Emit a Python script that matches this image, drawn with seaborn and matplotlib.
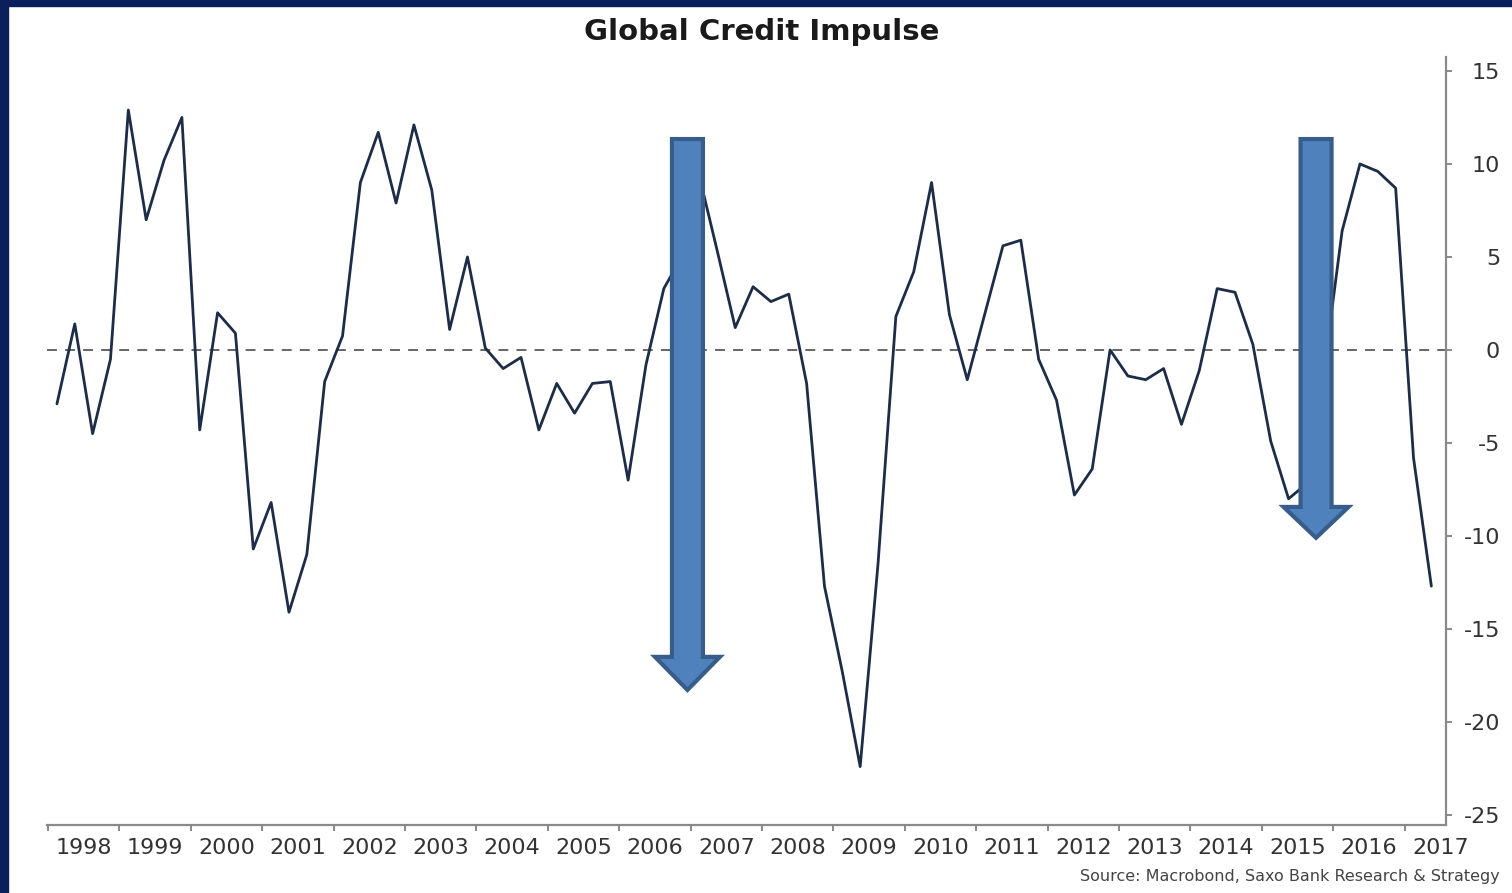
import numpy as np
import pandas as pd
import matplotlib
matplotlib.use("Agg")
import matplotlib.pyplot as plt
import seaborn as sns
from matplotlib.patches import Polygon, Rectangle

# ---------------- data ----------------
quarters = pd.period_range("1998Q1", "2017Q2", freq="Q")
impulse = [
    -2.9, 1.4, -4.5, -0.5,      # 1998
    12.9, 7.0, 10.2, 12.5,      # 1999
    -4.3, 2.0, 0.9, -10.7,      # 2000
    -8.2, -14.1, -11.0, -1.7,   # 2001
    0.75, 9.0, 11.7, 7.9,       # 2002
    12.1, 8.6, 1.1, 5.0,        # 2003
    0.1, -1.0, -0.4, -4.3,      # 2004
    -1.8, -3.4, -1.8, -1.7,     # 2005
    -7.0, -0.8, 3.3, 5.0,       # 2006
    9.3, 5.3, 1.2, 3.4,         # 2007
    2.6, 3.0, -1.8, -12.7,      # 2008
    -17.3, -22.4, -11.5, 1.8,   # 2009
    4.2, 9.0, 1.9, -1.6,        # 2010
    2.0, 5.6, 5.9, -0.5,        # 2011
    -2.7, -7.8, -6.4, 0.0,      # 2012
    -1.4, -1.6, -1.0, -4.0,     # 2013
    -1.1, 3.3, 3.1, 0.3,        # 2014
    -4.9, -8.0, -7.2, -1.0,     # 2015
    6.4, 10.0, 9.6, 8.7,        # 2016
    -5.8, -12.7,                # 2017
]
years = list(range(1998, 2018))
year_labels = [str(y) for y in years]
y_ticks = [15, 10, 5, 0, -5, -10, -15, -20, -25]

# annotation arrows (center x in years, top / head base / tip in chart units)
arrow_x = [2006.956, 2015.76]
arrow_top = [11.34, 11.34]
arrow_head_base = [-16.5, -8.44]
arrow_tip = [-18.28, -10.1]
shaft_half = 0.217
head_half = 0.455

title = "Global Credit Impulse"
source = "Source: Macrobond, Saxo Bank Research & Strategy"

# ---------------- plot ----------------
sns.set_theme(style="white")
plt.rcParams["font.family"] = ["DejaVu Sans"]

W, H = 1512, 893
fig = plt.figure(figsize=(W / 100, H / 100), dpi=100)
fig.patch.set_facecolor("white")

# navy frame (top and left)
fig.add_artist(Rectangle((0, 1 - 6 / H), 1, 6 / H, transform=fig.transFigure,
                         color="#0b1f5c", zorder=10))
fig.add_artist(Rectangle((0, 0), 8 / W, 1, transform=fig.transFigure,
                         color="#0b1f5c", zorder=10))

ax = fig.add_axes([47 / W, (H - 825) / H, (1446 - 47) / W, (825 - 57) / H])

tq = [p.year + (p.quarter - 1) / 4 + 0.125 for p in quarters]
df = pd.DataFrame({"t": tq, "v": impulse})

ax.axhline(0, color="#5a5a5a", ls=(0, (5.5, 4.5)), lw=1.3, zorder=1)
sns.lineplot(data=df, x="t", y="v", ax=ax, color="#1d2c47", linewidth=2.0, zorder=3)

for cx, top, hb, tip in zip(arrow_x, arrow_top, arrow_head_base, arrow_tip):
    verts = [
        (cx - shaft_half, top), (cx + shaft_half, top), (cx + shaft_half, hb),
        (cx + head_half, hb), (cx, tip), (cx - head_half, hb), (cx - shaft_half, hb),
    ]
    ax.add_patch(Polygon(verts, closed=True, facecolor="#4f81bd",
                         edgecolor="#385d8a", linewidth=3.0, zorder=5,
                         joinstyle="miter"))

ax.set_xlim(1997.986, 2017.58)
ax.set_ylim(-25.54, 15.75)

ax.set_xlabel("")
ax.set_ylabel("")

ax.yaxis.tick_right()
ax.set_yticks(y_ticks)
ax.set_yticklabels([str(v) for v in y_ticks])
for lab in ax.get_yticklabels():
    lab.set_horizontalalignment("right")

ax.set_xticks(years)
ax.set_xticklabels([])
ax.set_xticks([y + 0.5 for y in years[:-1]] + [2017.5], minor=True)
ax.set_xticklabels(year_labels, minor=True)

ax.tick_params(axis="x", which="major", direction="out", length=4, width=1.3,
               color="#808080", bottom=True)
ax.tick_params(axis="x", which="minor", length=0, labelsize=16, labelcolor="#333333",
               pad=9, bottom=True)
ax.tick_params(axis="y", which="major", direction="out", length=4, width=1.3,
               color="#808080", labelsize=16, labelcolor="#333333", pad=35, right=True)

for side in ["left", "top"]:
    ax.spines[side].set_visible(False)
for side in ["bottom", "right"]:
    ax.spines[side].set_visible(True)
    ax.spines[side].set_color("#8a8a8a")
    ax.spines[side].set_linewidth(1.6)

ax.grid(False)

fig.text(762 / W, 1 - 32 / H, title, ha="center", va="center",
         fontsize=21, fontweight="bold", color="#1a1a1a")
fig.text(1500 / W, 1 - 877 / H, source, ha="right", va="center",
         fontsize=11.5, color="#444444")

fig.savefig("out.png", dpi=100, facecolor=fig.get_facecolor())
